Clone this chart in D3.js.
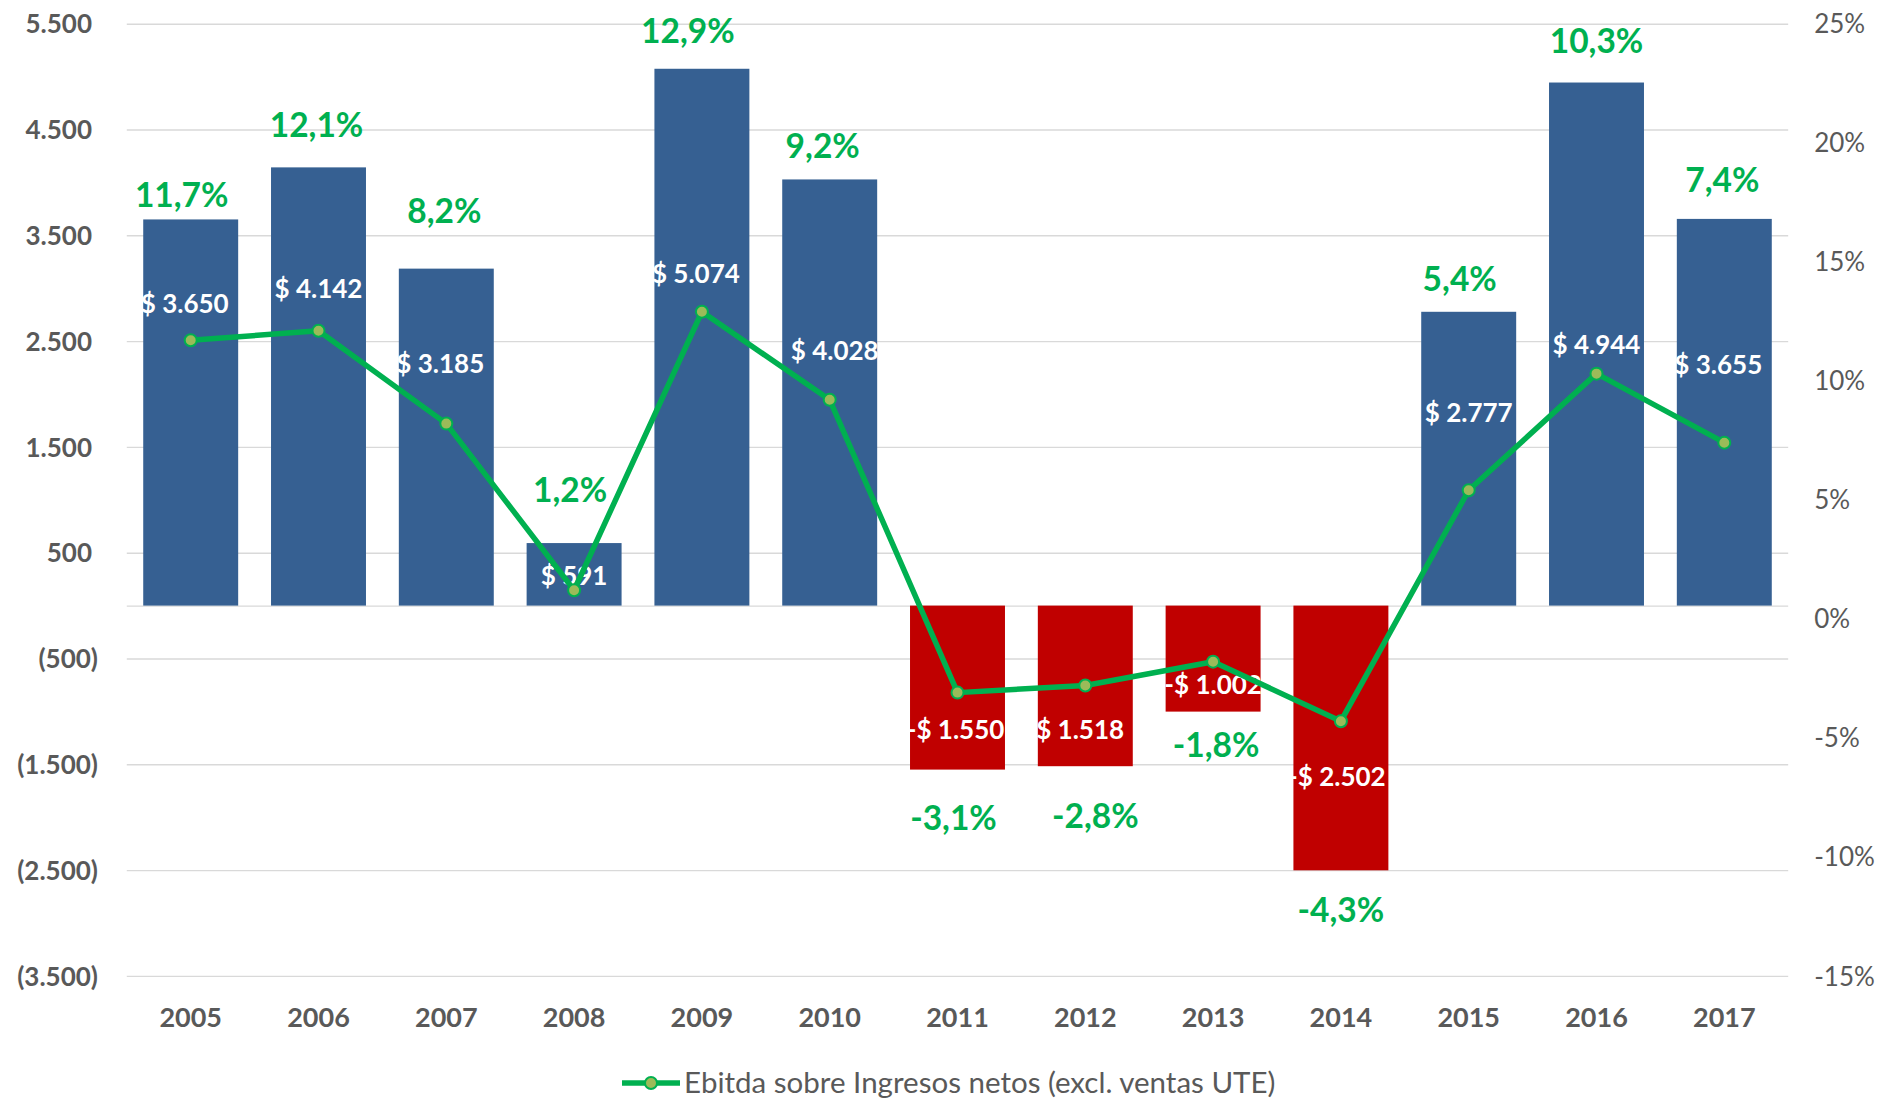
<!DOCTYPE html>
<html>
<head>
<meta charset="utf-8">
<script src="https://cdn.jsdelivr.net/npm/d3@7"></script>
<style>
  html, body { margin: 0; padding: 0; background: #ffffff; }
  svg { display: block; }
  text { font-family: Lato, "Open Sans", "Noto Sans", sans-serif; }
</style>
</head>
<body>
<svg id="chart" width="1885" height="1099"></svg>
<script>
// ---------------- data ----------------
const years = ["2005","2006","2007","2008","2009","2010","2011","2012","2013","2014","2015","2016","2017"];
const ebitda = [3650, 4142, 3185, 591, 5074, 4028, -1550, -1518, -1002, -2502, 2777, 4944, 3655];
const ebitdaMargin = [11.7, 12.1, 8.2, 1.2, 12.9, 9.2, -3.1, -2.8, -1.8, -4.3, 5.4, 10.3, 7.4];
const leftTicks = [5500, 4500, 3500, 2500, 1500, 500, -500, -1500, -2500, -3500];
const rightTicks = [25, 20, 15, 10, 5, 0, -5, -10, -15];
const legendLabel = "Ebitda sobre Ingresos netos (excl. ventas UTE)";

// label anchors as placed by hand in the original (axis units)
const valueLabelAt = [2851, 2990, 2285, 280, 3134, 2406, -1176, -1176, -750, -1623, 1826, 2461, 2278];
const marginLabelAt = [17.8, 20.74, 17.11, 5.40, 24.70, 19.85, -8.38, -8.31, -5.30, -12.23, 14.28, 24.25, 18.43];
const valueLabelDx = [-6, 0, -6, 0, -6, 5, -2, -10, 0, -4, 0, 0, -6];
const marginLabelDx = [-9, -2, -2, -4, -14, -7, -4, 10, 3, 0, -9, 0, -2];

// ---------------- layout ----------------
const X0 = 126.8, X1 = 1788.2, YTOP = 23.7, YBOT = 975.9;
const GREY = "#595959", BLUE = "#366092", RED = "#C00000", GREEN = "#00B050", MARKER = "#9BBB59", GRID = "#D9D9D9";

const svg = d3.select("#chart");
svg.append("rect").attr("width", 1885).attr("height", 1099).attr("fill", "#ffffff");

const x = d3.scaleBand().domain(years).range([X0, X1]).paddingInner(0.257).paddingOuter(0.1285);
const yL = d3.scaleLinear().domain([-3500, 5500]).range([YBOT, YTOP]);
const yR = d3.scaleLinear().domain([-15, 25]).range([YBOT, YTOP]);

const loc = d3.formatLocale({decimal: ",", thousands: ".", grouping: [3], currency: ["$", ""], minus: "-"});
const fInt = loc.format(",.0f");
const fPct = loc.format(".1f");

// gridlines
const grid = svg.append("g").attr("transform", `translate(${X0},0)`)
  .call(d3.axisRight(yL).tickValues(leftTicks.concat([0])).tickSize(X1 - X0).tickFormat(""));
grid.select(".domain").remove();
grid.selectAll("line").attr("stroke", GRID).attr("stroke-width", 1.4);

// left axis
const axL = svg.append("g").attr("transform", `translate(98,0)`)
  .call(d3.axisLeft(yL).tickValues(leftTicks).tickSize(0).tickPadding(0)
    .tickFormat(v => v < 0 ? "(" + fInt(-v) + ")" : fInt(v)));
axL.select(".domain").remove();
axL.selectAll("text")
  .attr("fill", GREY).attr("font-size", 26).attr("font-weight", 700)
  .attr("font-family", "Lato, 'Open Sans', sans-serif")
  .attr("dx", d => d < 0 ? 0 : -6).attr("dy", "0.35em");

// right axis
const axR = svg.append("g").attr("transform", `translate(${X1},0)`)
  .call(d3.axisRight(yR).tickValues(rightTicks).tickSize(0).tickPadding(26)
    .tickFormat(v => (v < 0 ? "-" : "") + Math.abs(v) + "%"));
axR.select(".domain").remove();
axR.selectAll("text")
  .attr("fill", GREY).attr("font-size", 26).attr("font-weight", 400)
  .attr("font-family", "Lato, 'Open Sans', sans-serif")
  .attr("dy", "0.35em");

// bottom category axis
const axB = svg.append("g").attr("transform", `translate(0,${YBOT})`)
  .call(d3.axisBottom(x).tickSize(0).tickPadding(0));
axB.select(".domain").remove();
axB.selectAll("text")
  .attr("fill", GREY).attr("font-size", 27).attr("font-weight", 700)
  .attr("font-family", "Lato, 'Open Sans', sans-serif")
  .attr("y", 42).attr("dy", "0.35em");

// bars
svg.append("g").selectAll("rect").data(ebitda).join("rect")
  .attr("x", (d, i) => x(years[i]))
  .attr("width", x.bandwidth())
  .attr("y", d => yL(Math.max(0, d)))
  .attr("height", d => Math.abs(yL(d) - yL(0)))
  .attr("fill", d => d < 0 ? RED : BLUE);

// value labels
svg.append("g").selectAll("text").data(ebitda).join("text")
  .attr("x", (d, i) => x(years[i]) + x.bandwidth() / 2 + valueLabelDx[i])
  .attr("y", (d, i) => yL(valueLabelAt[i]))
  .attr("dy", "0.35em")
  .attr("text-anchor", "middle")
  .attr("fill", "#ffffff").attr("font-size", 26).attr("font-weight", 700)
  .text(d => (d < 0 ? "-$ " : "$ ") + fInt(Math.abs(d)));

// line
const line = d3.line()
  .x((d, i) => x(years[i]) + x.bandwidth() / 2)
  .y(d => yR(d));
svg.append("path").datum(ebitdaMargin)
  .attr("d", line).attr("fill", "none")
  .attr("stroke", GREEN).attr("stroke-width", 5.5)
  .attr("stroke-linejoin", "round");

svg.append("g").selectAll("circle").data(ebitdaMargin).join("circle")
  .attr("cx", (d, i) => x(years[i]) + x.bandwidth() / 2)
  .attr("cy", d => yR(d))
  .attr("r", 6)
  .attr("fill", MARKER).attr("stroke", GREEN).attr("stroke-width", 2);

// margin labels
svg.append("g").selectAll("text").data(ebitdaMargin).join("text")
  .attr("x", (d, i) => x(years[i]) + x.bandwidth() / 2 + marginLabelDx[i])
  .attr("y", (d, i) => yR(marginLabelAt[i]))
  .attr("dy", "0.35em")
  .attr("text-anchor", "middle")
  .attr("fill", GREEN).attr("font-size", 33.5).attr("font-weight", 700)
  .text(d => fPct(d) + "%");

// legend
const lg = svg.append("g").attr("transform", "translate(622,1083)");
lg.append("line").attr("x1", 0).attr("x2", 58).attr("y1", 0).attr("y2", 0)
  .attr("stroke", GREEN).attr("stroke-width", 5.5);
lg.append("circle").attr("cx", 29).attr("cy", 0).attr("r", 6)
  .attr("fill", MARKER).attr("stroke", GREEN).attr("stroke-width", 2);
lg.append("text").attr("x", 62).attr("y", 0).attr("dy", "0.35em")
  .attr("fill", GREY).attr("font-size", 29.5).attr("font-weight", 400)
  .text(legendLabel);
</script>
</body>
</html>
